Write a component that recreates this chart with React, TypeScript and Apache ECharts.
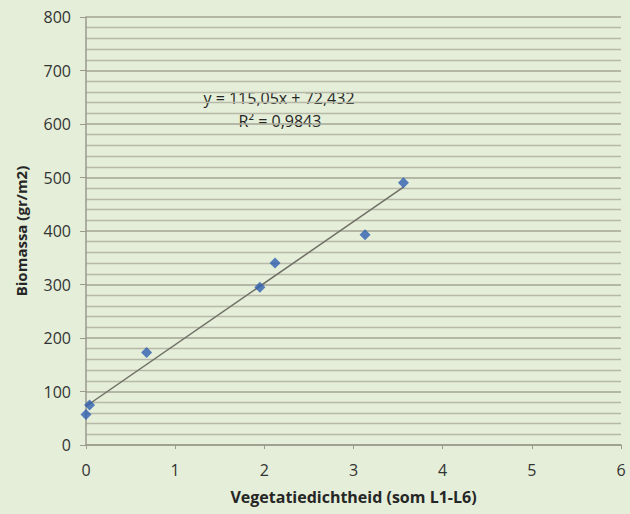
import React, { useEffect, useRef } from "react";
import * as echarts from "echarts";

const xValues = [0.0, 0.04, 0.68, 1.95, 2.12, 3.13, 3.56];
const yValues = [57, 75, 173, 295, 340, 393, 490];
const slope = 115.05;
const intercept = 72.432;
const trendXRange = [0, 3.56];
const equationText = "y = 115,05x + 72,432";
const r2Text = "R² = 0,9843";
const xTicks = [0, 1, 2, 3, 4, 5, 6];
const yTicks = [0, 100, 200, 300, 400, 500, 600, 700, 800];

export default function App() {
  const ref = useRef<HTMLDivElement>(null);
  useEffect(() => {
    document.body.style.margin = "0";
    const chart = echarts.init(ref.current!, undefined, { renderer: "svg" });
    const font = "'Open Sans', 'Liberation Sans', sans-serif";
    const points = xValues.map((x, i) => [x, yValues[i]]);
    const trend = trendXRange.map((x) => [x, slope * x + intercept]);
    chart.setOption({
      animation: false,
      backgroundColor: "#e4eed8",
      textStyle: { fontFamily: font },
      grid: { left: 86, right: 9, top: 17, bottom: 69 },
      xAxis: {
        type: "value",
        min: xTicks[0],
        max: xTicks[xTicks.length - 1],
        interval: 1,
        name: "Vegetatiedichtheid (som L1-L6)",
        nameLocation: "middle",
        nameGap: 44,
        nameTextStyle: { fontFamily: font, fontSize: 16, fontWeight: "bold", color: "#262626" },
        axisLine: { show: true, lineStyle: { color: "#9a9a8c", width: 1.5 } },
        axisTick: { show: true, length: 4, lineStyle: { color: "#9a9a8c" } },
        axisLabel: { margin: 17, fontSize: 16, color: "#333333", fontFamily: font },
        splitLine: { show: false },
      },
      yAxis: {
        type: "value",
        min: yTicks[0],
        max: yTicks[yTicks.length - 1],
        interval: 100,
        name: "Biomassa (gr/m2)",
        nameLocation: "middle",
        nameGap: 58,
        nameTextStyle: { fontFamily: font, fontSize: 15, fontWeight: "bold", color: "#262626" },
        axisLine: { show: true, lineStyle: { color: "#9a9a8c", width: 1.5 } },
        axisTick: { show: true, length: 6, lineStyle: { color: "#9a9a8c" } },
        axisLabel: { margin: 15, fontSize: 16, color: "#333333", fontFamily: font },
        splitLine: { show: true, lineStyle: { color: "#a4a596", width: 1.6 } },
        minorTick: { show: false, splitNumber: 5 },
        minorSplitLine: { show: true, lineStyle: { color: "#b6b9a8", width: 1.3 } },
      },
      graphic: [
        {
          type: "text",
          x: 279,
          y: 98,
          style: { text: equationText, fontFamily: font, fontSize: 16, fill: "#262626", align: "center", verticalAlign: "middle" },
        },
        {
          type: "text",
          x: 280,
          y: 121,
          style: { text: r2Text, fontFamily: font, fontSize: 16, fill: "#262626", align: "center", verticalAlign: "middle" },
        },
      ],
      series: [
        {
          type: "line",
          data: trend,
          symbol: "none",
          lineStyle: { color: "#6f6f66", width: 1.5 },
          z: 2,
        },
        {
          type: "scatter",
          data: points,
          symbol: "diamond",
          symbolSize: 11,
          itemStyle: { color: "#2f5fb0" },
          z: 3,
        },
      ],
    });
    return () => chart.dispose();
  }, []);
  return <div ref={ref} style={{ width: 630, height: 514, position: "absolute", left: 0, top: 0 }} />;
}
